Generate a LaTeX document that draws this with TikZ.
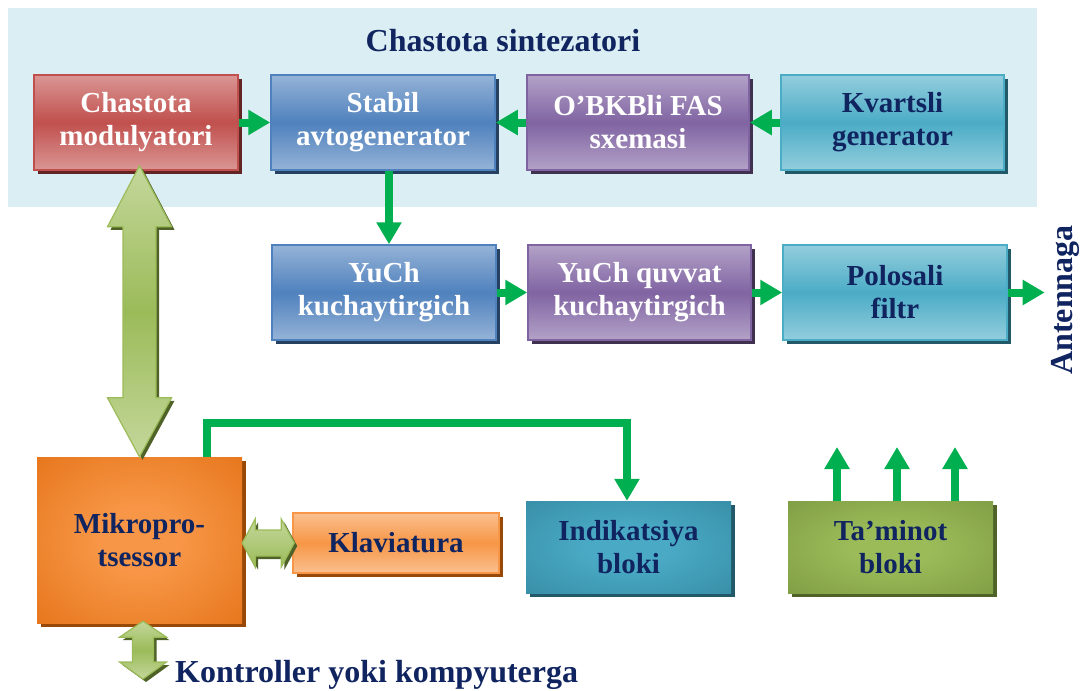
\documentclass[tikz,border=0pt]{standalone}
\usepackage{fontspec}
\setmainfont{Liberation Serif}
\usetikzlibrary{arrows.meta,calc,shadows}

\definecolor{navy}{RGB}{16,36,96}
\definecolor{gr}{HTML}{00B050}
\definecolor{bgblue}{HTML}{DBEEF4}
\definecolor{redM}{HTML}{C0504D}\definecolor{redL}{HTML}{DA9694}\definecolor{redS}{HTML}{632523}
\definecolor{bluM}{HTML}{4F81BD}\definecolor{bluL}{HTML}{95B3D7}\definecolor{bluS}{HTML}{254061}
\definecolor{purM}{HTML}{8064A2}\definecolor{purL}{HTML}{B3A2C7}\definecolor{purS}{HTML}{403151}
\definecolor{aquM}{HTML}{4BACC6}\definecolor{aquL}{HTML}{93CDDD}\definecolor{aquS}{HTML}{215968}
\definecolor{oraM}{HTML}{F79646}\definecolor{oraL}{HTML}{FAC090}\definecolor{oraS}{HTML}{984807}
\definecolor{oraD}{HTML}{E06A0C}
\definecolor{tealD}{HTML}{31849B}\definecolor{tealC}{HTML}{4AAAC5}
\definecolor{oliD}{HTML}{76933C}\definecolor{oliM}{HTML}{9BBB59}\definecolor{oliS}{HTML}{4F6228}
\definecolor{fatL}{HTML}{C4D79B}\definecolor{fatE}{HTML}{9BBB59}

\pgfdeclareradialshading{mikroglow}{\pgfpoint{0bp}{0bp}}{color(0bp)=(oraM); color(10bp)=(oraM); color(46bp)=(oraD); color(50bp)=(oraD)}
\pgfdeclareradialshading{indglow}{\pgfpoint{0bp}{0bp}}{color(0bp)=(tealC); color(10bp)=(tealC); color(46bp)=(tealD); color(50bp)=(tealD)}
\pgfdeclareradialshading{tamglow}{\pgfpoint{0bp}{0bp}}{color(0bp)=(oliM); color(10bp)=(oliM); color(46bp)=(oliD); color(50bp)=(oliD)}

\tikzset{
  boxtxt/.style={inner sep=0pt, align=center, font=\bfseries\fontsize{29}{33}\selectfont},
  axisbox/.style n args={3}{boxtxt, draw=#2, line width=1.5pt, top color=#1, bottom color=#1, middle color=#2,
     general shadow={fill=#3, shadow xshift=4pt, shadow yshift=-4pt}},
  redbox/.style={axisbox={redL}{redM}{redS}, text=white},
  blubox/.style={axisbox={bluL}{bluM}{bluS}, text=white},
  purbox/.style={axisbox={purL}{purM}{purS}, text=white},
  aqubox/.style={axisbox={aquL}{aquM}{aquS}, text=navy},
  klavbox/.style={axisbox={oraL}{oraM}{oraS}, text=navy},
  glowbox/.style 2 args={boxtxt, text=navy, shading=#1,
     general shadow={fill=#2, shadow xshift=4pt, shadow yshift=-4pt}},
  outlbl/.style={inner sep=0pt, text=navy, font=\bfseries\fontsize{32}{36}\selectfont},
  garrow/.style={draw=gr, line width=8pt, -{Triangle[width=24pt,length=22pt]}},
  fatv/.style={draw=fatE, line width=1.2pt, top color=fatL, bottom color=fatL, middle color=oliM,
     general shadow={fill=oliS, shadow xshift=3pt, shadow yshift=-3pt}},
  fath/.style={draw=fatE, line width=1.2pt, top color=fatL, bottom color=oliM,
     general shadow={fill=oliS, shadow xshift=3pt, shadow yshift=-3pt}},
}

\begin{document}
\begin{tikzpicture}[x=1pt,y=-1pt]
\useasboundingbox (0,0) rectangle (1080,691);
\fill[bgblue] (8,8) rectangle (1037,207);

\node[outlbl] (title) at (503,41) {Chastota sintezatori};

% top row
\node[redbox, minimum width=204pt, minimum height=95pt] (mod) at (136,122.5) {Chastota\\modulyatori};
\node[blubox, minimum width=224pt, minimum height=95pt] (stab) at (383,122.5) {Stabil\\avtogenerator};
\node[purbox, minimum width=222pt, minimum height=95pt] (fas) at (638,122.5) {O’BKBli FAS\\sxemasi};
\node[aqubox, minimum width=223pt, minimum height=95pt] (kv) at (892.5,122.5) {Kvartsli\\generator};

% middle row
\node[blubox, minimum width=224pt, minimum height=95pt] (yuch) at (384,292.5) {YuCh\\kuchaytirgich};
\node[purbox, minimum width=223pt, minimum height=95pt] (quv) at (639.5,292.5) {YuCh quvvat\\kuchaytirgich};
\node[aqubox, minimum width=224pt, minimum height=95pt] (pol) at (895,292.5) {Polosali\\filtr};
\node[outlbl, rotate=90, inner sep=6pt] (ant) at (1065,300) {Antennaga};

% bottom
\node[glowbox={mikroglow}{oraS}, minimum width=205pt, minimum height=166pt] (mikro) at (139.5,540) {Mikropro-\\tsessor};
\node[klavbox, minimum width=206pt, minimum height=60pt] (klav) at (396,543) {Klaviatura};
\node[glowbox={indglow}{aquS}, minimum width=205pt, minimum height=92pt] (ind) at (628.5,547) {Indikatsiya\\bloki};
\node[glowbox={tamglow}{oliS}, minimum width=205pt, minimum height=92pt] (tam) at (890.5,547) {Ta’minot\\bloki};
\node[outlbl, anchor=base west] (kt) at (175,682) {Kontroller yoki kompyuterga};

% green arrows
\draw[garrow] (mod.east) -- (stab.west);
\draw[garrow] (fas.west) -- (stab.east);
\draw[garrow] (kv.west) -- (fas.east);
\draw[garrow] ($(stab.south)+(6,0)$) -- ($(yuch.north)+(5,0)$);
\draw[garrow] (yuch.east) -- (quv.west);
\draw[garrow] (quv.east) -- (pol.west);
\draw[garrow] (pol.east) -- (ant.north |- pol.east);
\draw[garrow] ($(mikro.north)+(67.5,0)$) -- ++(0,-34) -| ($(ind.north)+(-1.5,0)$);

\coordinate (p1) at (837,447);
\coordinate (p2) at (897,447);
\coordinate (p3) at (955,447);
\draw[garrow] (tam.north -| p1) -- (p1);
\draw[garrow] (tam.north -| p2) -- (p2);
\draw[garrow] (tam.north -| p3) -- (p3);

% fat double arrow modulyatori <-> mikroprotsessor
\path[fatv] let \p1=($(mikro.north |- mod.south)+(0,-5)$), \p2=(mikro.north) in
  (\p1) -- (\x1+32pt,\y1-61pt) -- (\x1+16.5pt,\y1-61pt) -- (\x1+16.5pt,\y2+59pt) -- (\x1+32pt,\y2+59pt)
  -- (\p2) -- (\x1-32pt,\y2+59pt) -- (\x1-16.5pt,\y2+59pt) -- (\x1-16.5pt,\y1-61pt) -- (\x1-32pt,\y1-61pt) -- cycle;

% mikro <-> klaviatura
\path[fath] let \p1=(mikro.east |- klav.west), \p2=($(klav.west)+(2,0)$) in
  (\p1) -- (\x1+13pt,\y1+24pt) -- (\x1+13pt,\y1+13pt) -- (\x2-13pt,\y1+13pt) -- (\x2-13pt,\y1+24pt)
  -- (\p2) -- (\x2-13pt,\y1-24pt) -- (\x2-13pt,\y1-13pt) -- (\x1+13pt,\y1-13pt) -- (\x1+13pt,\y1-24pt) -- cycle;

% mikro <-> controller
\coordinate (kbot) at (143,679);
\path[fatv] let \p1=($(mikro.south)+(3.5,-2)$), \p2=(kbot) in
  (\p1) -- (\x1+23.5pt,\y1-16pt) -- (\x1+10.5pt,\y1-16pt) -- (\x1+10.5pt,\y2+17pt) -- (\x1+23.5pt,\y2+17pt)
  -- (\p2) -- (\x1-23.5pt,\y2+17pt) -- (\x1-10.5pt,\y2+17pt) -- (\x1-10.5pt,\y1-16pt) -- (\x1-23.5pt,\y1-16pt) -- cycle;
\end{tikzpicture}
\end{document}
